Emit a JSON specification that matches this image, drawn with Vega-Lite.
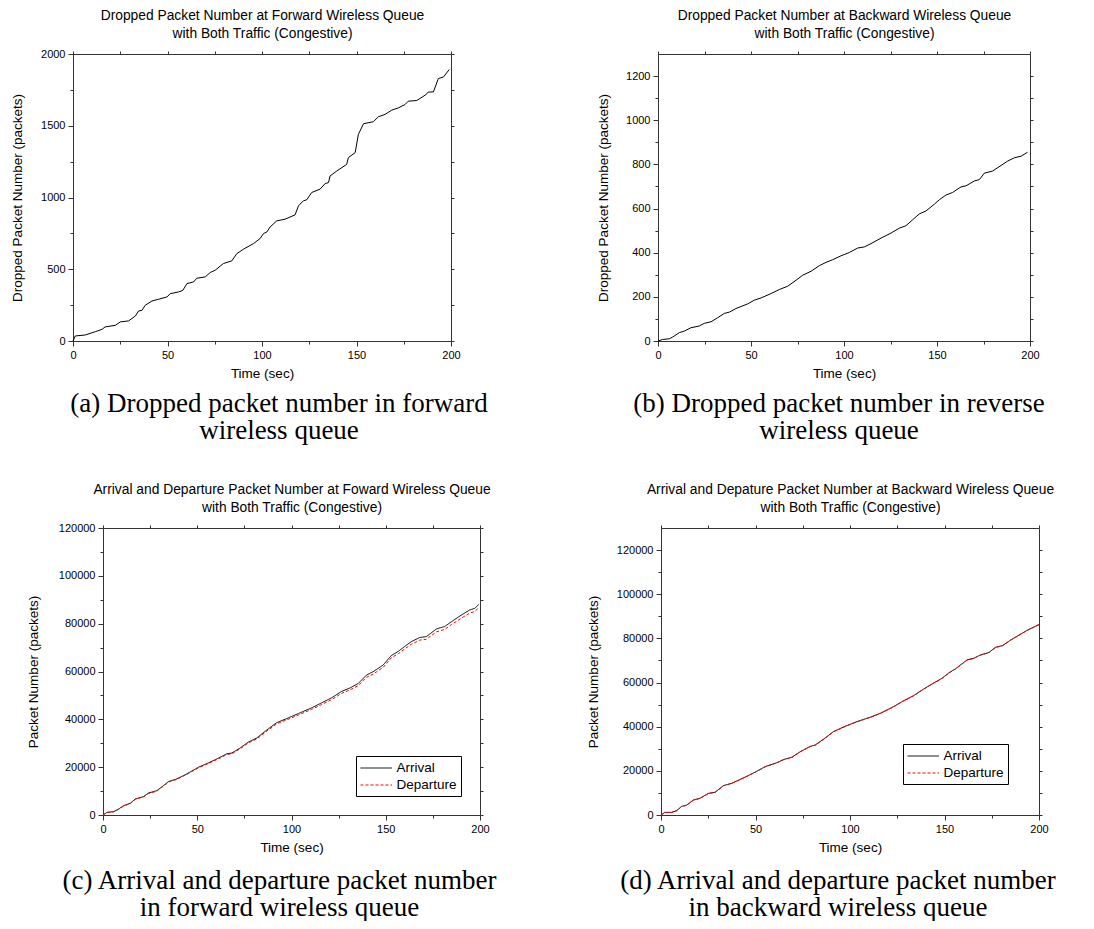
{
  "$schema": "https://vega.github.io/schema/vega-lite/v6.json",
  "padding": {"left": 10, "top": 8, "right": 0, "bottom": 0},
  "background": "white",
  "config": {
    "view": {"stroke": null},
    "axis": {"labelFont": "Liberation Sans", "titleFont": "Liberation Sans", "labelFontSize": 11, "titleFontSize": 13.5, "titleFontWeight": "normal", "labelColor": "black", "titleColor": "black", "domainColor": "#333", "tickColor": "#333", "grid": false, "labelFlush": false, "labelOverlap": false, "format": "d"},
    "title": {"font": "Liberation Serif", "fontSize": 27, "fontWeight": "normal", "color": "black", "lineHeight": 27},
    "legend": {"labelFont": "Liberation Sans", "labelFontSize": 13.5, "labelColor": "black", "strokeColor": "black", "fillColor": "white", "padding": 4, "symbolType": "M-1,0H3.2", "symbolSize": 225, "symbolStrokeWidth": 1, "labelOffset": 20.5, "rowPadding": 2, "title": null}
  },
  "resolve": {"scale": {"color": "independent", "strokeDash": "independent"}, "legend": {"color": "independent", "strokeDash": "independent"}},
  "datasets": {
    "a": [
      {"t":0,"v":0},{"t":1.2,"v":35},{"t":6.5,"v":42},{"t":11.8,"v":65},{"t":15.3,"v":81},{"t":17,"v":98},{"t":22.4,"v":109},{"t":25,"v":133},{"t":29.4,"v":140},{"t":33,"v":174},{"t":34.7,"v":209},{"t":36.5,"v":214},{"t":38.2,"v":249},{"t":41.8,"v":279},{"t":45.3,"v":291},{"t":49.7,"v":307},{"t":51.5,"v":330},{"t":55.9,"v":342},{"t":58.1,"v":353},{"t":60.3,"v":400},{"t":63.8,"v":412},{"t":65.5,"v":437},{"t":70,"v":447},{"t":72.6,"v":477},{"t":75.2,"v":493},{"t":79.6,"v":540},{"t":84,"v":558},{"t":86.7,"v":609},{"t":90.2,"v":640},{"t":95.5,"v":679},{"t":99,"v":714},{"t":100.8,"v":749},{"t":102.6,"v":760},{"t":104.3,"v":795},{"t":107.8,"v":837},{"t":112.2,"v":849},{"t":117.5,"v":879},{"t":119.3,"v":942},{"t":121.9,"v":977},{"t":123.7,"v":984},{"t":126.3,"v":1035},{"t":130.7,"v":1058},{"t":133.4,"v":1097},{"t":135.2,"v":1104},{"t":136,"v":1150},{"t":139.6,"v":1185},{"t":144.8,"v":1231},{"t":145.7,"v":1278},{"t":149.3,"v":1313},{"t":151,"v":1440},{"t":153.7,"v":1514},{"t":158.9,"v":1528},{"t":161.6,"v":1563},{"t":165.1,"v":1579},{"t":168.7,"v":1609},{"t":172.2,"v":1625},{"t":175.7,"v":1648},{"t":177.4,"v":1671},{"t":181.9,"v":1676},{"t":186.3,"v":1713},{"t":188,"v":1734},{"t":190.7,"v":1736},{"t":193.3,"v":1829},{"t":196,"v":1840},{"t":197.7,"v":1868},{"t":199,"v":1891}
    ],
    "b": [
      {"t":0,"v":0},{"t":2.5,"v":7},{"t":6.1,"v":10},{"t":7.9,"v":18},{"t":11.5,"v":38},{"t":14.2,"v":45},{"t":17.7,"v":60},{"t":22.2,"v":68},{"t":24.9,"v":80},{"t":28.5,"v":87},{"t":32,"v":105},{"t":35.7,"v":125},{"t":38.4,"v":131},{"t":41.9,"v":147},{"t":48.2,"v":168},{"t":51.8,"v":185},{"t":55.4,"v":195},{"t":60.8,"v":215},{"t":65.2,"v":233},{"t":69.7,"v":248},{"t":74.2,"v":275},{"t":77.8,"v":298},{"t":82.3,"v":316},{"t":86.7,"v":341},{"t":90.3,"v":356},{"t":93.9,"v":368},{"t":98.4,"v":386},{"t":102.9,"v":401},{"t":107.3,"v":421},{"t":110.9,"v":426},{"t":114.5,"v":441},{"t":119.9,"v":466},{"t":125.3,"v":489},{"t":129.7,"v":511},{"t":133.3,"v":522},{"t":136.9,"v":549},{"t":140.5,"v":576},{"t":144.1,"v":589},{"t":148.6,"v":620},{"t":151.3,"v":640},{"t":154.8,"v":661},{"t":158.4,"v":673},{"t":162.9,"v":698},{"t":165.6,"v":703},{"t":170.1,"v":725},{"t":172.8,"v":731},{"t":175.4,"v":760},{"t":179.9,"v":770},{"t":184.4,"v":795},{"t":188,"v":815},{"t":191.6,"v":830},{"t":195.2,"v":837},{"t":198.7,"v":855}
    ],
    "c": [
      {"t":0,"v":0,"s":"Arrival"},{"t":2.1,"v":1100,"s":"Arrival"},{"t":5.6,"v":1400,"s":"Arrival"},{"t":8.3,"v":2500,"s":"Arrival"},{"t":10.9,"v":3900,"s":"Arrival"},{"t":14.5,"v":4900,"s":"Arrival"},{"t":17.1,"v":6700,"s":"Arrival"},{"t":21.5,"v":7700,"s":"Arrival"},{"t":24.2,"v":9200,"s":"Arrival"},{"t":28.6,"v":10200,"s":"Arrival"},{"t":32.1,"v":12300,"s":"Arrival"},{"t":34.8,"v":14000,"s":"Arrival"},{"t":39.2,"v":15100,"s":"Arrival"},{"t":44.5,"v":17200,"s":"Arrival"},{"t":50.7,"v":20000,"s":"Arrival"},{"t":56,"v":21800,"s":"Arrival"},{"t":61.3,"v":23800,"s":"Arrival"},{"t":65.7,"v":25600,"s":"Arrival"},{"t":68.3,"v":25900,"s":"Arrival"},{"t":72.7,"v":28000,"s":"Arrival"},{"t":77.1,"v":30500,"s":"Arrival"},{"t":81.6,"v":32200,"s":"Arrival"},{"t":86,"v":35000,"s":"Arrival"},{"t":92.1,"v":38600,"s":"Arrival"},{"t":97.4,"v":40300,"s":"Arrival"},{"t":103.6,"v":42400,"s":"Arrival"},{"t":110.7,"v":44800,"s":"Arrival"},{"t":116,"v":46900,"s":"Arrival"},{"t":121.3,"v":49000,"s":"Arrival"},{"t":126.6,"v":51700,"s":"Arrival"},{"t":131,"v":53100,"s":"Arrival"},{"t":135.4,"v":55000,"s":"Arrival"},{"t":139.8,"v":58500,"s":"Arrival"},{"t":143.3,"v":59900,"s":"Arrival"},{"t":148.6,"v":62700,"s":"Arrival"},{"t":153,"v":66700,"s":"Arrival"},{"t":156.6,"v":68400,"s":"Arrival"},{"t":160.1,"v":70500,"s":"Arrival"},{"t":163.6,"v":72500,"s":"Arrival"},{"t":168,"v":74200,"s":"Arrival"},{"t":171.6,"v":74600,"s":"Arrival"},{"t":176.9,"v":77800,"s":"Arrival"},{"t":181.3,"v":78800,"s":"Arrival"},{"t":184.8,"v":80800,"s":"Arrival"},{"t":190.1,"v":83600,"s":"Arrival"},{"t":194.5,"v":85700,"s":"Arrival"},{"t":197.2,"v":86400,"s":"Arrival"},{"t":199.3,"v":88000,"s":"Arrival"},
      {"t":0,"v":0,"s":"Departure"},{"t":2.1,"v":1000,"s":"Departure"},{"t":5.6,"v":1300,"s":"Departure"},{"t":8.3,"v":2350,"s":"Departure"},{"t":10.9,"v":3750,"s":"Departure"},{"t":14.5,"v":4750,"s":"Departure"},{"t":17.1,"v":6550,"s":"Departure"},{"t":21.5,"v":7550,"s":"Departure"},{"t":24.2,"v":9000,"s":"Departure"},{"t":28.6,"v":10000,"s":"Departure"},{"t":32.1,"v":12100,"s":"Departure"},{"t":34.8,"v":13800,"s":"Departure"},{"t":39.2,"v":14900,"s":"Departure"},{"t":44.5,"v":17000,"s":"Departure"},{"t":50.7,"v":19750,"s":"Departure"},{"t":56,"v":21550,"s":"Departure"},{"t":61.3,"v":23500,"s":"Departure"},{"t":65.7,"v":25300,"s":"Departure"},{"t":68.3,"v":25600,"s":"Departure"},{"t":72.7,"v":27650,"s":"Departure"},{"t":77.1,"v":30150,"s":"Departure"},{"t":81.6,"v":31800,"s":"Departure"},{"t":86,"v":34550,"s":"Departure"},{"t":92.1,"v":38100,"s":"Departure"},{"t":97.4,"v":39750,"s":"Departure"},{"t":103.6,"v":41800,"s":"Departure"},{"t":110.7,"v":44150,"s":"Departure"},{"t":116,"v":46200,"s":"Departure"},{"t":121.3,"v":48250,"s":"Departure"},{"t":126.6,"v":50900,"s":"Departure"},{"t":131,"v":52300,"s":"Departure"},{"t":135.4,"v":54100,"s":"Departure"},{"t":139.8,"v":57600,"s":"Departure"},{"t":143.3,"v":58900,"s":"Departure"},{"t":148.6,"v":61700,"s":"Departure"},{"t":153,"v":65800,"s":"Departure"},{"t":156.6,"v":67400,"s":"Departure"},{"t":160.1,"v":69500,"s":"Departure"},{"t":163.6,"v":71400,"s":"Departure"},{"t":168,"v":73100,"s":"Departure"},{"t":171.6,"v":73500,"s":"Departure"},{"t":176.9,"v":76600,"s":"Departure"},{"t":181.3,"v":77600,"s":"Departure"},{"t":184.8,"v":79600,"s":"Departure"},{"t":190.1,"v":82300,"s":"Departure"},{"t":194.5,"v":84400,"s":"Departure"},{"t":197.2,"v":85100,"s":"Departure"},{"t":199.3,"v":86600,"s":"Departure"}
    ],
    "d": [
      {"t":0,"v":0,"s":"Arrival"},{"t":2.1,"v":1200,"s":"Arrival"},{"t":5.7,"v":1200,"s":"Arrival"},{"t":8.3,"v":2000,"s":"Arrival"},{"t":10.9,"v":3900,"s":"Arrival"},{"t":13.6,"v":4500,"s":"Arrival"},{"t":17.1,"v":6800,"s":"Arrival"},{"t":20.7,"v":7600,"s":"Arrival"},{"t":25.1,"v":9800,"s":"Arrival"},{"t":28.6,"v":10300,"s":"Arrival"},{"t":33,"v":13300,"s":"Arrival"},{"t":37.5,"v":14400,"s":"Arrival"},{"t":43.6,"v":16800,"s":"Arrival"},{"t":49.8,"v":19400,"s":"Arrival"},{"t":55.1,"v":21900,"s":"Arrival"},{"t":61.3,"v":23700,"s":"Arrival"},{"t":64.8,"v":25100,"s":"Arrival"},{"t":69.3,"v":26200,"s":"Arrival"},{"t":73.7,"v":28700,"s":"Arrival"},{"t":79,"v":31100,"s":"Arrival"},{"t":81.6,"v":31700,"s":"Arrival"},{"t":86.9,"v":34900,"s":"Arrival"},{"t":91.3,"v":37800,"s":"Arrival"},{"t":97.5,"v":40200,"s":"Arrival"},{"t":103.7,"v":42300,"s":"Arrival"},{"t":111.7,"v":44600,"s":"Arrival"},{"t":116.1,"v":46100,"s":"Arrival"},{"t":123.1,"v":49100,"s":"Arrival"},{"t":127.6,"v":51400,"s":"Arrival"},{"t":133.7,"v":54100,"s":"Arrival"},{"t":139,"v":57100,"s":"Arrival"},{"t":143.5,"v":59400,"s":"Arrival"},{"t":148.8,"v":62000,"s":"Arrival"},{"t":152.3,"v":64400,"s":"Arrival"},{"t":155.8,"v":66200,"s":"Arrival"},{"t":162,"v":70300,"s":"Arrival"},{"t":165.5,"v":71000,"s":"Arrival"},{"t":169,"v":72500,"s":"Arrival"},{"t":173.5,"v":73600,"s":"Arrival"},{"t":177,"v":76000,"s":"Arrival"},{"t":180.6,"v":76700,"s":"Arrival"},{"t":185,"v":79250,"s":"Arrival"},{"t":189.4,"v":81500,"s":"Arrival"},{"t":193.8,"v":83700,"s":"Arrival"},{"t":200,"v":86300,"s":"Arrival"},
      {"t":0,"v":0,"s":"Departure"},{"t":2.1,"v":1100,"s":"Departure"},{"t":5.7,"v":1100,"s":"Departure"},{"t":8.3,"v":1900,"s":"Departure"},{"t":10.9,"v":3800,"s":"Departure"},{"t":13.6,"v":4400,"s":"Departure"},{"t":17.1,"v":6700,"s":"Departure"},{"t":20.7,"v":7500,"s":"Departure"},{"t":25.1,"v":9700,"s":"Departure"},{"t":28.6,"v":10200,"s":"Departure"},{"t":33,"v":13200,"s":"Departure"},{"t":37.5,"v":14300,"s":"Departure"},{"t":43.6,"v":16700,"s":"Departure"},{"t":49.8,"v":19300,"s":"Departure"},{"t":55.1,"v":21800,"s":"Departure"},{"t":61.3,"v":23600,"s":"Departure"},{"t":64.8,"v":25000,"s":"Departure"},{"t":69.3,"v":26100,"s":"Departure"},{"t":73.7,"v":28600,"s":"Departure"},{"t":79,"v":31000,"s":"Departure"},{"t":81.6,"v":31600,"s":"Departure"},{"t":86.9,"v":34800,"s":"Departure"},{"t":91.3,"v":37700,"s":"Departure"},{"t":97.5,"v":40100,"s":"Departure"},{"t":103.7,"v":42200,"s":"Departure"},{"t":111.7,"v":44500,"s":"Departure"},{"t":116.1,"v":46000,"s":"Departure"},{"t":123.1,"v":49000,"s":"Departure"},{"t":127.6,"v":51300,"s":"Departure"},{"t":133.7,"v":54000,"s":"Departure"},{"t":139,"v":57000,"s":"Departure"},{"t":143.5,"v":59300,"s":"Departure"},{"t":148.8,"v":61900,"s":"Departure"},{"t":152.3,"v":64300,"s":"Departure"},{"t":155.8,"v":66100,"s":"Departure"},{"t":162,"v":70200,"s":"Departure"},{"t":165.5,"v":70900,"s":"Departure"},{"t":169,"v":72400,"s":"Departure"},{"t":173.5,"v":73500,"s":"Departure"},{"t":177,"v":75900,"s":"Departure"},{"t":180.6,"v":76600,"s":"Departure"},{"t":185,"v":79150,"s":"Departure"},{"t":189.4,"v":81400,"s":"Departure"},{"t":193.8,"v":83600,"s":"Departure"},{"t":200,"v":86200,"s":"Departure"}
    ]
  },
  "columns": 1,
  "align": "none",
  "spacing": 38,
  "concat": [
    {
      "hconcat": [
        {
          "width": 378, "height": 287,
          "data": {"name": "a"},
          "title": {"text": ["(a) Dropped packet number in forward", "wireless queue"], "orient": "bottom", "anchor": "middle", "frame": "group", "dx": 17, "offset": 11},
          "layer": [
            {
              "mark": {"type": "line", "color": "black", "strokeWidth": 1},
              "encoding": {
                "x": {"field": "t", "type": "quantitative", "scale": {"domain": [0, 200], "nice": false, "zero": false},
                  "axis": {"orient": "bottom", "values": [0,25,50,75,100,125,150,175,200], "labelExpr": "datum.value % 50 === 0 ? datum.label : ''", "tickSize": {"condition": {"test": "datum.value % 50 === 0", "value": 5}, "value": 3}, "title": "Time (sec)", "labelPadding": 3, "titlePadding": 6}},
                "y": {"field": "v", "type": "quantitative", "scale": {"domain": [0, 2000], "nice": false},
                  "axis": {"orient": "left", "values": [0,250,500,750,1000,1250,1500,1750,2000], "labelExpr": "datum.value % 500 === 0 ? datum.label : ''", "tickSize": {"condition": {"test": "datum.value % 500 === 0", "value": 5}, "value": 3}, "title": "Dropped Packet Number (packets)", "labelPadding": 3, "titlePadding": 16}}
              }
            },
            {
              "mark": {"type": "line", "opacity": 0},
              "encoding": {
                "x": {"field": "t", "type": "quantitative", "axis": {"orient": "top", "values": [0,25,50,75,100,125,150,175,200], "labels": false, "tickSize": 3, "title": ["Dropped Packet Number at Forward Wireless Queue", "with Both Traffic (Congestive)"], "titleFontSize": 13.8, "titlePadding": 10, "titleLineHeight": 18}},
                "y": {"field": "v", "type": "quantitative", "axis": {"orient": "right", "values": [0,250,500,750,1000,1250,1500,1750,2000], "labels": false, "tickSize": 3, "title": null}}
              }
            }
          ],
          "resolve": {"axis": {"x": "independent", "y": "independent"}}
        },
        {
          "width": 372, "height": 287,
          "data": {"name": "b"},
          "title": {"text": ["(b) Dropped packet number in reverse", "wireless queue"], "orient": "bottom", "anchor": "middle", "frame": "group", "dx": -5, "offset": 11},
          "layer": [
            {
              "mark": {"type": "line", "color": "black", "strokeWidth": 1},
              "encoding": {
                "x": {"field": "t", "type": "quantitative", "scale": {"domain": [0, 200], "nice": false, "zero": false},
                  "axis": {"orient": "bottom", "values": [0,25,50,75,100,125,150,175,200], "labelExpr": "datum.value % 50 === 0 ? datum.label : ''", "tickSize": {"condition": {"test": "datum.value % 50 === 0", "value": 5}, "value": 3}, "title": "Time (sec)", "labelPadding": 3, "titlePadding": 6}},
                "y": {"field": "v", "type": "quantitative", "scale": {"domain": [0, 1300], "nice": false},
                  "axis": {"orient": "left", "values": [0,100,200,300,400,500,600,700,800,900,1000,1100,1200], "labelExpr": "datum.value % 200 === 0 ? datum.label : ''", "tickSize": {"condition": {"test": "datum.value % 200 === 0", "value": 5}, "value": 3}, "title": "Dropped Packet Number (packets)", "labelPadding": 3, "titlePadding": 15}}
              }
            },
            {
              "mark": {"type": "line", "opacity": 0},
              "encoding": {
                "x": {"field": "t", "type": "quantitative", "axis": {"orient": "top", "values": [0,25,50,75,100,125,150,175,200], "labels": false, "tickSize": 3, "title": ["Dropped Packet Number at Backward Wireless Queue", "with Both Traffic (Congestive)"], "titleFontSize": 13.8, "titlePadding": 10, "titleLineHeight": 18}},
                "y": {"field": "v", "type": "quantitative", "axis": {"orient": "right", "values": [0,100,200,300,400,500,600,700,800,900,1000,1100,1200], "labels": false, "tickSize": 3, "title": null}}
              }
            }
          ],
          "resolve": {"axis": {"x": "independent", "y": "independent"}}
        }
      ],
      "spacing": 108
    },
    {
      "resolve": {"scale": {"color": "independent", "strokeDash": "independent"}, "legend": {"color": "independent", "strokeDash": "independent"}},
      "hconcat": [
        {
          "width": 407, "height": 287,
          "data": {"name": "c"},
          "title": {"text": ["(c) Arrival and departure packet number", "in forward wireless queue"], "orient": "bottom", "anchor": "middle", "frame": "group", "dx": 3, "offset": 14},
          "layer": [
            {
              "mark": {"type": "line", "strokeWidth": 1},
              "encoding": {
                "x": {"field": "t", "type": "quantitative", "scale": {"domain": [0, 200], "nice": false, "zero": false, "range": [30, 407]},
                  "axis": {"orient": "bottom", "values": [0,25,50,75,100,125,150,175,200], "labelExpr": "datum.value % 50 === 0 ? datum.label : ''", "tickSize": {"condition": {"test": "datum.value % 50 === 0", "value": 5}, "value": 3}, "title": "Time (sec)", "labelPadding": 3, "titlePadding": 6}},
                "y": {"field": "v", "type": "quantitative", "scale": {"domain": [0, 120000], "nice": false},
                  "axis": {"orient": "left", "offset": -30, "values": [0,10000,20000,30000,40000,50000,60000,70000,80000,90000,100000,110000,120000], "labelExpr": "datum.value % 20000 === 0 ? datum.label : ''", "tickSize": {"condition": {"test": "datum.value % 20000 === 0", "value": 5}, "value": 3}, "title": "Packet Number (packets)", "labelPadding": 3, "titlePadding": 18}},
                "color": {"field": "s", "type": "nominal", "scale": {"domain": ["Arrival", "Departure"], "range": ["black", "#ff0000"]},
                  "legend": {"orient": "bottom-right", "offset": 19}},
                "strokeDash": {"field": "s", "type": "nominal", "scale": {"domain": ["Arrival", "Departure"], "range": [[1, 0], [3, 2]]},
                  "legend": {"orient": "bottom-right", "offset": 19}}
              }
            },
            {
              "mark": {"type": "line", "opacity": 0},
              "encoding": {
                "detail": {"field": "s"},
                "x": {"field": "t", "type": "quantitative", "axis": {"orient": "top", "values": [0,25,50,75,100,125,150,175,200], "labels": false, "tickSize": 3, "title": ["Arrival and Departure Packet Number at Foward Wireless Queue", "with Both Traffic (Congestive)"], "titleFontSize": 13.8, "titlePadding": 10, "titleLineHeight": 18}},
                "y": {"field": "v", "type": "quantitative", "axis": {"orient": "right", "values": [0,10000,20000,30000,40000,50000,60000,70000,80000,90000,100000,110000,120000], "labels": false, "tickSize": 3, "title": null}}
              }
            }
          ],
          "resolve": {"axis": {"x": "independent", "y": "independent"}}
        },
        {
          "width": 378, "height": 287,
          "data": {"name": "d"},
          "title": {"text": ["(d) Arrival and departure packet number", "in backward wireless queue"], "orient": "bottom", "anchor": "middle", "frame": "group", "dx": -12, "offset": 14},
          "layer": [
            {
              "mark": {"type": "line", "strokeWidth": 1},
              "encoding": {
                "x": {"field": "t", "type": "quantitative", "scale": {"domain": [0, 200], "nice": false, "zero": false},
                  "axis": {"orient": "bottom", "values": [0,25,50,75,100,125,150,175,200], "labelExpr": "datum.value % 50 === 0 ? datum.label : ''", "tickSize": {"condition": {"test": "datum.value % 50 === 0", "value": 5}, "value": 3}, "title": "Time (sec)", "labelPadding": 3, "titlePadding": 6}},
                "y": {"field": "v", "type": "quantitative", "scale": {"domain": [0, 130000], "nice": false},
                  "axis": {"orient": "left", "values": [0,10000,20000,30000,40000,50000,60000,70000,80000,90000,100000,110000,120000], "labelExpr": "datum.value % 20000 === 0 ? datum.label : ''", "tickSize": {"condition": {"test": "datum.value % 20000 === 0", "value": 5}, "value": 3}, "title": "Packet Number (packets)", "labelPadding": 3, "titlePadding": 16}},
                "color": {"field": "s", "type": "nominal", "scale": {"domain": ["Arrival", "Departure"], "range": ["black", "#ff0000"]},
                  "legend": {"orient": "bottom-right", "offset": 31}},
                "strokeDash": {"field": "s", "type": "nominal", "scale": {"domain": ["Arrival", "Departure"], "range": [[1, 0], [3, 2]]},
                  "legend": {"orient": "bottom-right", "offset": 31}}
              }
            },
            {
              "mark": {"type": "line", "opacity": 0},
              "encoding": {
                "detail": {"field": "s"},
                "x": {"field": "t", "type": "quantitative", "axis": {"orient": "top", "values": [0,25,50,75,100,125,150,175,200], "labels": false, "tickSize": 3, "title": ["Arrival and Depature Packet Number at Backward Wireless Queue", "with Both Traffic (Congestive)"], "titleFontSize": 13.8, "titlePadding": 10, "titleLineHeight": 18}},
                "y": {"field": "v", "type": "quantitative", "axis": {"orient": "right", "values": [0,10000,20000,30000,40000,50000,60000,70000,80000,90000,100000,110000,120000], "labels": false, "tickSize": 3, "title": null}}
              }
            }
          ],
          "resolve": {"axis": {"x": "independent", "y": "independent"}}
        }
      ],
      "spacing": 88
    }
  ]
}
